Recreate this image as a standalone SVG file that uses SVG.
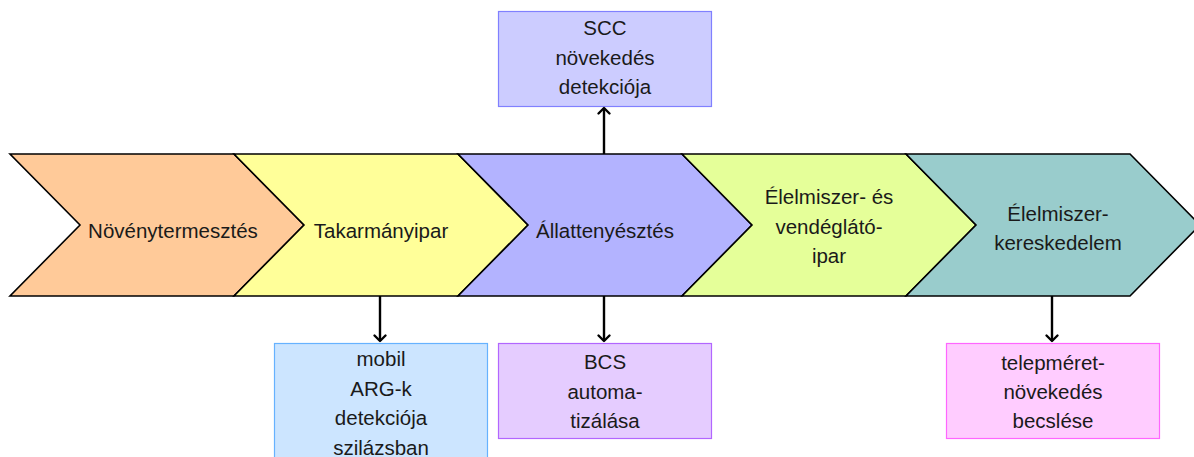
<svg xmlns="http://www.w3.org/2000/svg" width="1194" height="457" viewBox="0 0 1194 457">
  <style>
    .chev { stroke: #000; stroke-width: 1.6; stroke-linejoin: miter; }
    .lbl { font-family: "Liberation Sans", Arial, sans-serif; font-size: 20.5px; fill: #1a1a1a; text-anchor: middle; }
    .box { stroke-width: 1.2; }
    .conn { stroke: #000; stroke-width: 2.4; fill: none; marker-end: url(#tip); }
  </style>
  <defs>
    <marker id="tip" viewBox="-8 -8 10 16" refX="0" refY="0" markerWidth="10" markerHeight="16" markerUnits="userSpaceOnUse" orient="auto">
      <path d="M-5.5,-5.5 L0,0 L-5.5,5.5" fill="none" stroke="#000" stroke-width="2.4" stroke-linecap="round" stroke-linejoin="round"/>
    </marker>
  </defs>

  <rect width="1194" height="457" fill="#fff"/>

  <!-- process chain -->
  <g id="n-noveny">
    <polygon class="chev" fill="#FFCA99" points="10,154 234,154 304,225 234,296 10,296 80,225"/>
    <text class="lbl" x="173" y="238">Növénytermesztés</text>
  </g>
  <g id="n-takarmany">
    <polygon class="chev" fill="#FFFF99" points="234,154 458,154 528,225 458,296 234,296 304,225"/>
    <text class="lbl" x="381" y="238">Takarmányipar</text>
  </g>
  <g id="n-allat">
    <polygon class="chev" fill="#B3B3FF" points="458,154 682,154 752,225 682,296 458,296 528,225"/>
    <text class="lbl" x="605" y="238">Állattenyésztés</text>
  </g>
  <g id="n-vendeglato">
    <polygon class="chev" fill="#E5FF99" points="682,154 906,154 976,225 906,296 682,296 752,225"/>
    <text class="lbl" x="829" y="204">Élelmiszer- és</text>
    <text class="lbl" x="829" y="234">vendéglátó-</text>
    <text class="lbl" x="829" y="263">ipar</text>
  </g>
  <g id="n-kereskedelem">
    <polygon class="chev" fill="#99CCCC" points="906,154 1130,154 1200,225 1130,296 906,296 976,225"/>
    <text class="lbl" x="1058" y="221">Élelmiszer-</text>
    <text class="lbl" x="1058" y="250">kereskedelem</text>
  </g>

  <!-- task boxes -->
  <g id="t-scc">
    <rect class="box" x="498.5" y="11.5" width="213" height="95" fill="#CCCCFF" stroke="#8080FF"/>
    <text class="lbl" x="605" y="35">SCC</text>
    <text class="lbl" x="605" y="65">növekedés</text>
    <text class="lbl" x="605" y="94">detekciója</text>
  </g>
  <g id="t-arg">
    <rect class="box" x="274.5" y="343.5" width="213" height="120" fill="#CCE5FF" stroke="#66B2FF"/>
    <text class="lbl" x="381" y="366">mobil</text>
    <text class="lbl" x="381" y="396">ARG-k</text>
    <text class="lbl" x="381" y="425">detekciója</text>
    <text class="lbl" x="381" y="455">szilázsban</text>
  </g>
  <g id="t-bcs">
    <rect class="box" x="498.5" y="343.5" width="213" height="95" fill="#E5CCFF" stroke="#B266FF"/>
    <text class="lbl" x="605" y="369">BCS</text>
    <text class="lbl" x="605" y="399">automa-</text>
    <text class="lbl" x="605" y="428">tizálása</text>
  </g>
  <g id="t-telep">
    <rect class="box" x="946.5" y="343.5" width="213" height="95" fill="#FFCCFF" stroke="#FF66FF"/>
    <text class="lbl" x="1053" y="370">telepméret-</text>
    <text class="lbl" x="1053" y="399">növekedés</text>
    <text class="lbl" x="1053" y="428">becslése</text>
  </g>

  <!-- connectors -->
  <g id="connectors">
    <line class="conn" x1="604" y1="154" x2="604" y2="108"/>
    <line class="conn" x1="380" y1="296" x2="380" y2="341"/>
    <line class="conn" x1="604" y1="296" x2="604" y2="341"/>
    <line class="conn" x1="1052" y1="296" x2="1052" y2="341"/>
  </g>
</svg>
